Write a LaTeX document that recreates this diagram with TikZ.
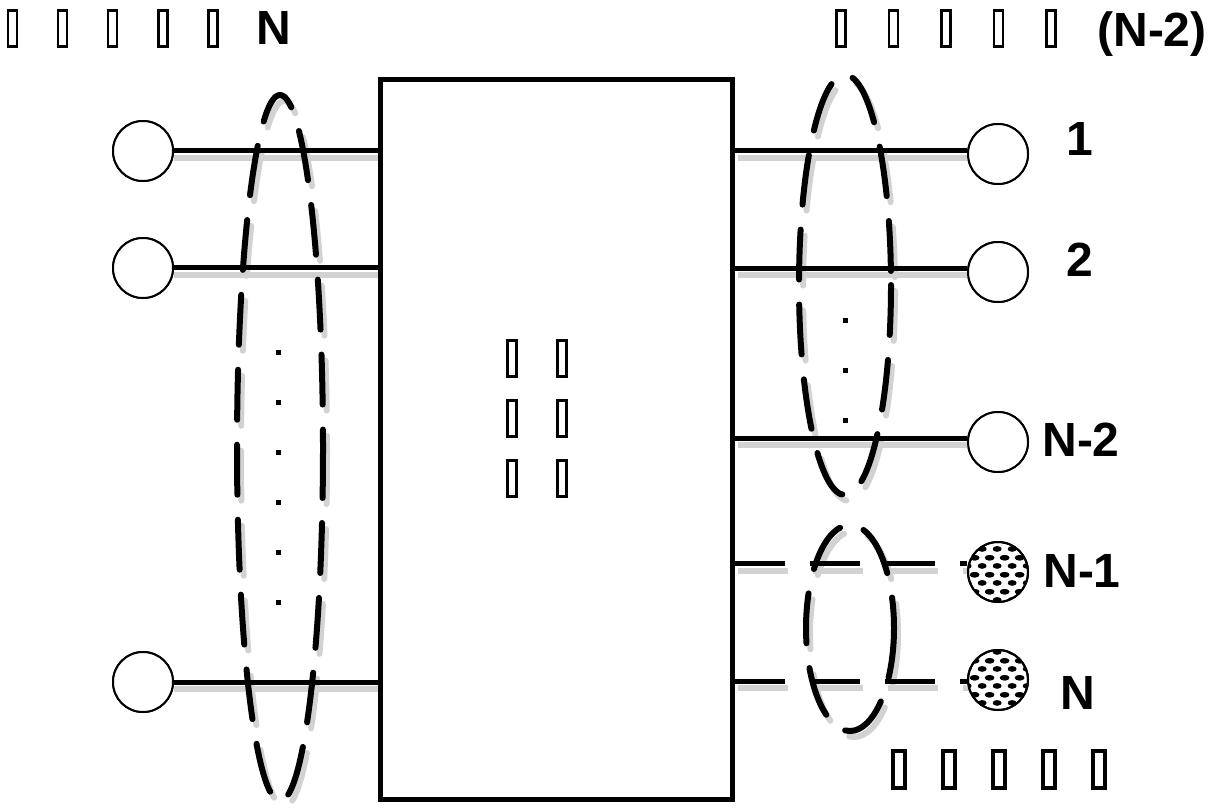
\documentclass[tikz,border=0pt]{standalone}
\usepackage{fontspec}
\setmainfont{Liberation Sans}
\usetikzlibrary{patterns.meta}
\tikzdeclarepattern{
  name=bigdots,
  type=uncolored,
  bottom left={(0pt,0pt)},
  top right={(15pt,17pt)},
  tile size={(15pt,17pt)},
  code={
    \fill (7.5pt,4.25pt) ellipse [x radius=4.6pt, y radius=2.8pt];
    \fill (0pt,12.75pt) ellipse [x radius=4.6pt, y radius=2.8pt];
    \fill (15pt,12.75pt) ellipse [x radius=4.6pt, y radius=2.8pt];
  }
}
\tikzset{
  wire/.style={line width=5pt},
  dwire/.style={line width=5pt, dash pattern=on 50pt off 25pt},
  shadowline/.style={line width=6pt, gray!35},
  port/.style={circle, draw, line width=2pt, minimum size=60pt, inner sep=0pt, fill=white},
  dport/.style={port, pattern={bigdots}, pattern color=black},
  group/.style={line width=6pt, dash pattern=on 50pt off 25pt, line cap=round},
  groupshadow/.style={group, gray!35},
  lbl/.style={inner sep=0pt, font=\fontsize{48}{56}\selectfont\bfseries},
  tofu/.style={draw, line width=2.8pt, minimum width=9pt, minimum height=36pt, inner sep=0pt},
  tofub/.style={tofu, line width=4pt, minimum width=12pt, minimum height=37pt},
  dotmark/.style={fill, minimum size=5pt, inner sep=0pt},
}
\begin{document}
\begin{tikzpicture}[x=1pt,y=-1pt]
\useasboundingbox (0,0) rectangle (1214,808);
% central box
\node[draw, line width=5pt, minimum width=352pt, minimum height=720pt, inner sep=0pt] (box) at (556,439) {};
% left ports
\node[port] (l1) at (143,151) {};
\node[port] (l2) at (143,268) {};
\node[port] (l3) at (143,682) {};
% right ports
\node[port] (r1) at (998,154) {};
\node[port] (r2) at (998,272) {};
\node[port] (r3) at (998,442) {};
\node[dport] (r4) at (998,572) {};
\node[dport] (r5) at (998,680) {};
% shadows of wires
\foreach \y in {158,275,689} \draw[shadowline] (174,\y) -- (378,\y);
\foreach \y in {158,275,445} \draw[shadowline] (738,\y) -- (968,\y);
\foreach \y in {571,688} \draw[shadowline, dash pattern=on 50pt off 25pt] (738,\y) -- (968,\y);
% shadows of groups
\draw[groupshadow] (284,454) ellipse [x radius=43, y radius=353];
\draw[groupshadow] (849,291) ellipse [x radius=46, y radius=210];
\draw[groupshadow] (854,634) ellipse [x radius=44, y radius=103];
% left wires
\draw[wire] (l1.east |- 0,150) -- (box.west |- 0,150);
\draw[wire] (l2.east |- 0,267) -- (box.west |- 0,267);
\draw[wire] (l3.east |- 0,682) -- (box.west |- 0,682);
% right wires
\draw[wire] (box.east |- 0,150) -- (r1.west |- 0,150);
\draw[wire] (box.east |- 0,268) -- (r2.west |- 0,268);
\draw[wire] (box.east |- 0,438) -- (r3.west |- 0,438);
\draw[dwire] (box.east |- 0,563) -- (r4.west |- 0,563);
\draw[dwire] (box.east |- 0,681) -- (r5.west |- 0,681);
% redraw ports on top
\node[port] at (l1) {};
\node[port] at (l2) {};
\node[port] at (l3) {};
\node[port] at (r1) {};
\node[port] at (r2) {};
\node[port] at (r3) {};
\node[dport] at (r4) {};
\node[dport] at (r5) {};
% dashed groups
\draw[group] (280,448) ellipse [x radius=43, y radius=353];
\draw[group] (845,285) ellipse [x radius=46, y radius=210];
\draw[group] (850,628) ellipse [x radius=44, y radius=103];
% dots
\foreach \y [count=\i] in {352,402,452,502,552,602} \node[dotmark] (ld\i) at (278,\y) {};
\foreach \y [count=\i] in {320,370,420} \node[dotmark] (rd\i) at (845,\y) {};
% labels
\node[lbl] (t1) at (1080,139) {1};
\node[lbl] (t2) at (1080,260) {2};
\node[lbl] (t3) at (1081,440) {N-2};
\node[lbl] (t4) at (1082,571) {N-1};
\node[lbl] (t5) at (1078,693) {N};
\node[lbl] (tn) at (274,28) {N};
\node[lbl] (tn2) at (1152,34) {(N-2)};
% tofu glyphs
\foreach \x [count=\i] in {12.5,62.5,112.5,163,213} \node[tofu] (tl\i) at (\x,28.5) {};
\foreach \x [count=\i] in {841,893.5,946,998.5,1051} \node[tofu] (tr\i) at (\x,28.5) {};
\foreach \x [count=\i] in {512,562} {
  \node[tofu, line width=3.3pt] (ma\i) at (\x,358.5) {};
  \node[tofu, line width=3.3pt] (mb\i) at (\x,418.5) {};
  \node[tofu, line width=3.3pt] (mc\i) at (\x,478.5) {};
}
\foreach \x [count=\i] in {898.5,948.5,998.5,1048.5,1098.5} \node[tofub] (tb\i) at (\x,769) {};
\end{tikzpicture}
\end{document}
